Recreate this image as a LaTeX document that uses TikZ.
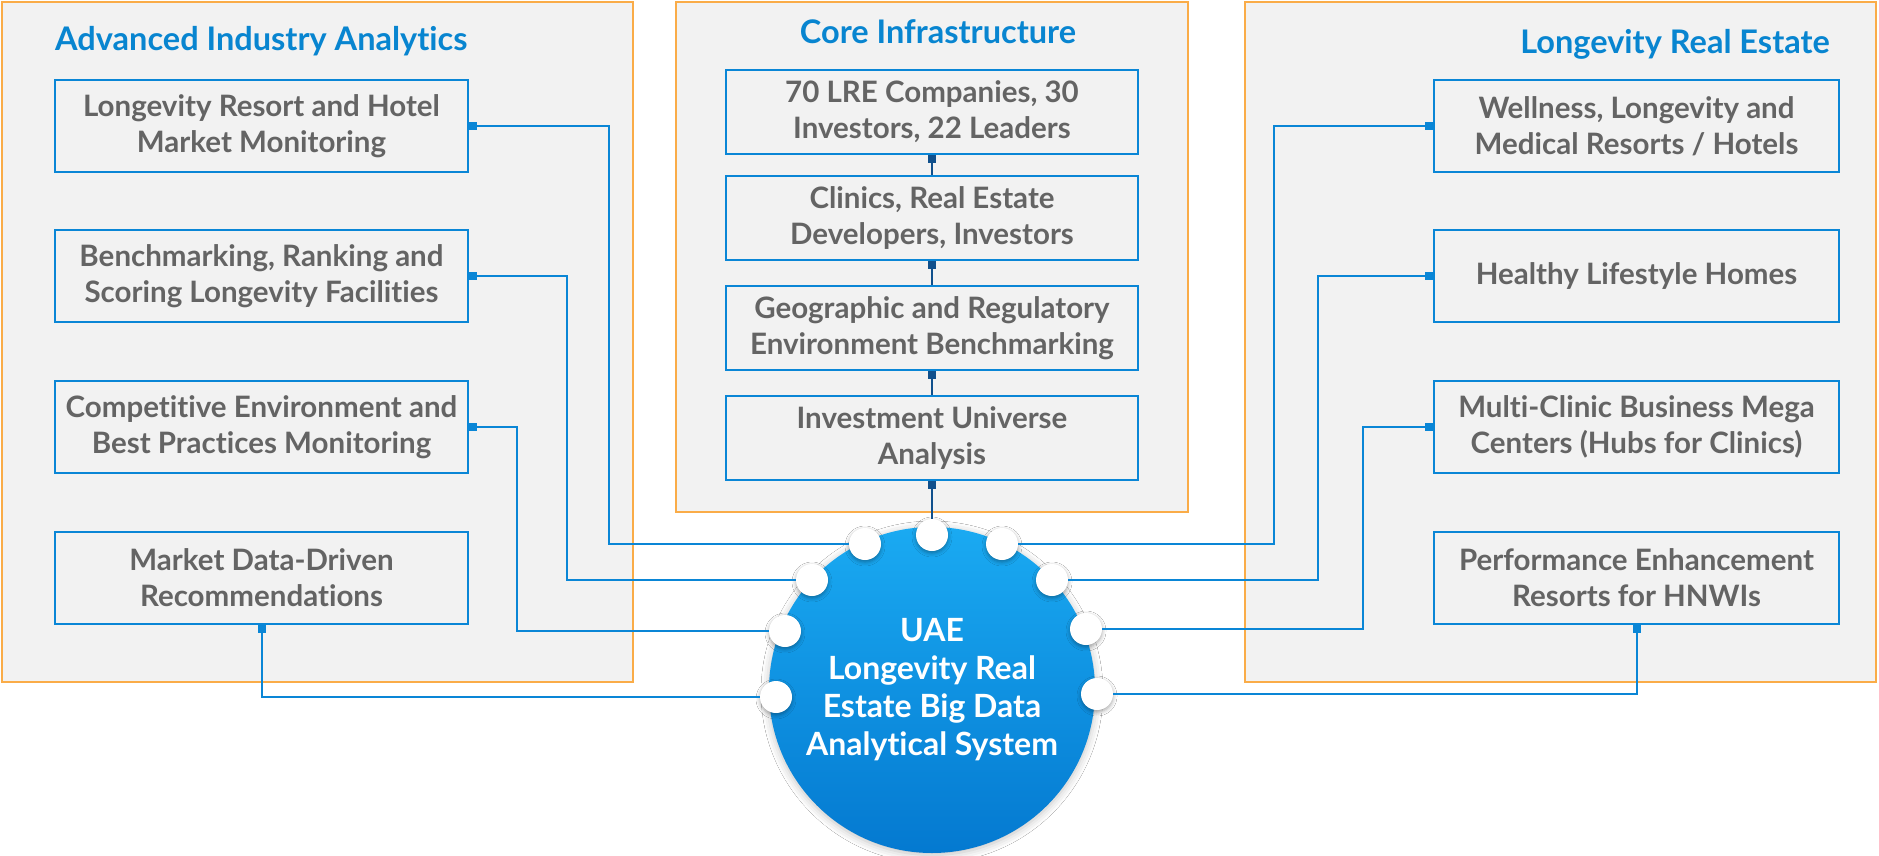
\documentclass[tikz,border=0pt]{standalone}
\usepackage{fontspec}
\setmainfont{Lato}[Ligatures=NoCommon]
\usetikzlibrary{arrows.meta,shadows.blur}
\definecolor{panelorange}{RGB}{250,172,72}
\definecolor{panelgray}{RGB}{242,242,242}
\definecolor{boxblue}{RGB}{10,134,214}
\definecolor{titleblue}{RGB}{8,133,208}
\definecolor{textgray}{RGB}{100,100,100}
\definecolor{navyline}{RGB}{16,80,140}
\definecolor{hubtop}{RGB}{26,170,242}
\definecolor{hubbottom}{RGB}{4,121,208}
\begin{document}
\begin{tikzpicture}[x=1pt,y=-1pt,
  panel/.style={draw=panelorange,line width=2.5pt,fill=panelgray},
  ptitle/.style={inner sep=0pt,text=titleblue,font=\fontsize{32.5}{38}\selectfont\bfseries},
  box/.style={draw=boxblue,line width=2.5pt,fill=panelgray,inner sep=0pt,align=center,
    text=textgray,font=\fontsize{29.5}{36}\selectfont\bfseries},
  lbox/.style={box,minimum width=413pt,minimum height=92pt},
  rbox/.style={box,minimum width=405pt,minimum height=92pt},
  cbox/.style={box,minimum width=412pt,minimum height=84pt},
  hub/.style={circle,minimum size=326pt,inner sep=0pt,top color=hubtop,bottom color=hubbottom,
    draw=none,align=center,text=white,font=\fontsize{32}{38}\selectfont\bfseries,
    blur shadow={shadow xshift=0pt,shadow yshift=-2pt,shadow blur radius=8pt,shadow opacity=25}},
  hubdot/.style={circle,minimum size=32pt,inner sep=0pt,fill=white,draw=none,
    blur shadow={shadow xshift=0pt,shadow yshift=-2pt,shadow blur radius=4pt,shadow opacity=35}},
  conn/.style={draw=boxblue,line width=2pt,-{Square[length=8pt,width=8pt]}},
  cconn/.style={draw=navyline,line width=2pt,-{Square[length=8pt,width=8pt]}}
]
\useasboundingbox (0,0) rectangle (1879,856);
\fill[white] (0,0) rectangle (1879,856);

% panels
\draw[panel] (2,2) rectangle (633,682);
\draw[panel] (676,2) rectangle (1188,512);
\draw[panel] (1245,2) rectangle (1876,682);

% titles
\node[ptitle,anchor=base west] (tL) at (55,51) {Advanced Industry Analytics};
\node[ptitle,anchor=base] (tC) at (938,44) {Core Infrastructure};
\node[ptitle,anchor=base east] (tR) at (1830,54) {Longevity Real Estate};

% left boxes
\node[lbox] (b1) at (261.5,126) {Longevity Resort and Hotel\\Market Monitoring};
\node[lbox] (b2) at (261.5,276) {Benchmarking, Ranking and\\Scoring Longevity Facilities};
\node[lbox] (b3) at (261.5,427) {Competitive Environment and\\Best Practices Monitoring};
\node[lbox] (b4) at (261.5,578) {Market Data-Driven\\Recommendations};

% center boxes
\node[cbox] (c1) at (932,112) {70 LRE Companies, 30\\Investors, 22 Leaders};
\node[cbox] (c2) at (932,218) {Clinics, Real Estate\\Developers, Investors};
\node[cbox] (c3) at (932,328) {Geographic and Regulatory\\Environment Benchmarking};
\node[cbox] (c4) at (932,438) {Investment Universe\\Analysis};

% right boxes
\node[rbox] (r1) at (1636.5,126) {Wellness, Longevity and\\Medical Resorts / Hotels};
\node[rbox] (r2) at (1636.5,276) {Healthy Lifestyle Homes};
\node[rbox] (r3) at (1636.5,427) {Multi-Clinic Business Mega\\Centers (Hubs for Clinics)};
\node[rbox] (r4) at (1636.5,578) {Performance Enhancement\\Resorts for HNWIs};

% hub
\node[hub] (hub) at (932,690) {UAE\\Longevity Real\\Estate Big Data\\Analytical System};

% dots
\node[hubdot] (dT) at (932,535) {};
\node[hubdot] (dL1) at (865,544) {};
\node[hubdot] (dL2) at (812,580) {};
\node[hubdot] (dL3) at (785,631) {};
\node[hubdot] (dL4) at (776,697) {};
\node[hubdot] (dR1) at (1002,544) {};
\node[hubdot] (dR2) at (1052,580) {};
\node[hubdot] (dR3) at (1086,629) {};
\node[hubdot] (dR4) at (1097,694) {};

% center connectors
\draw[cconn] (c2.north) -- (c1.south);
\draw[cconn] (c3.north) -- (c2.south);
\draw[cconn] (c4.north) -- (c3.south);
\draw[cconn] (dT.north) -- (c4.south);

% left connectors
\draw[conn] (dL1.west) -| ([xshift=140pt]b1.east) -- (b1.east);
\draw[conn] (dL2.west) -| ([xshift=98pt]b2.east) -- (b2.east);
\draw[conn] (dL3.west) -| ([xshift=48pt]b3.east) -- (b3.east);
\draw[conn] (dL4.west) -| (b4.south);

% right connectors
\draw[conn] (dR1.east) -| ([xshift=-159pt]r1.west) -- (r1.west);
\draw[conn] (dR2.east) -| ([xshift=-115pt]r2.west) -- (r2.west);
\draw[conn] (dR3.east) -| ([xshift=-70pt]r3.west) -- (r3.west);
\draw[conn] (dR4.east) -| (r4.south);
\end{tikzpicture}
\end{document}
